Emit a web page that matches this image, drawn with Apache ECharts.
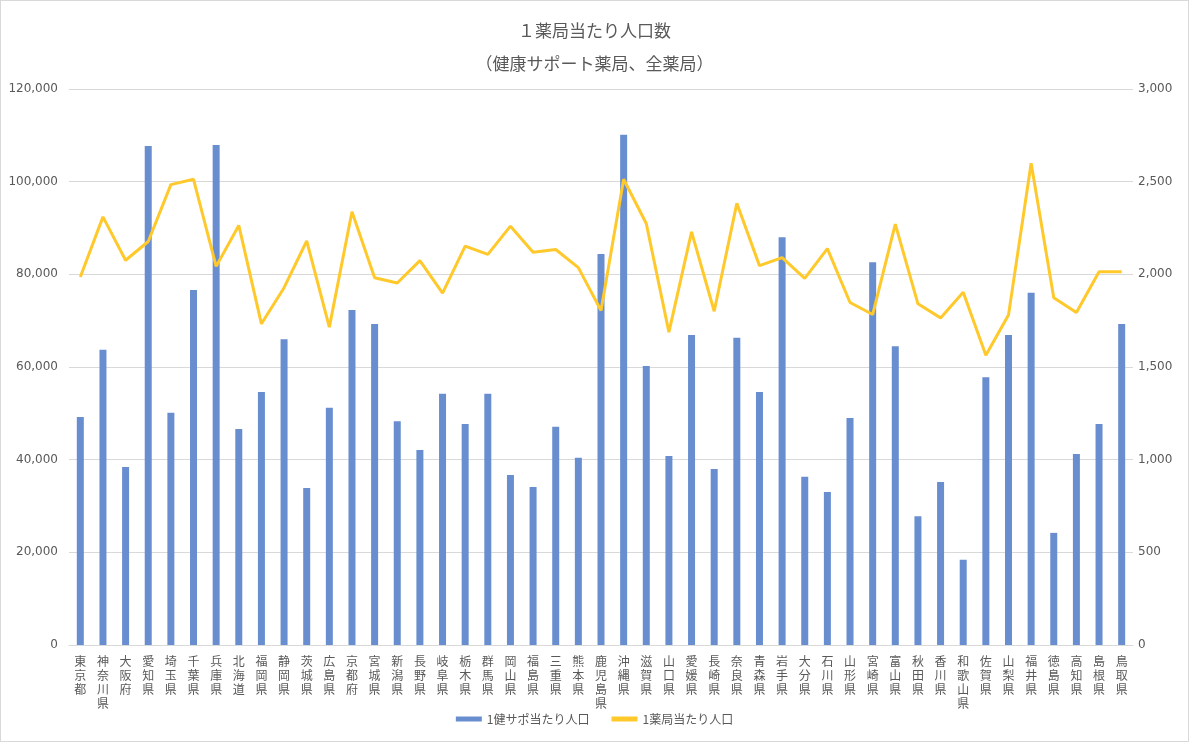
<!DOCTYPE html>
<html><head><meta charset="utf-8">
<script src="https://cdn.jsdelivr.net/npm/echarts@6/dist/echarts.min.js"></script>
<style>
html,body{margin:0;padding:0;background:#fff;}
#c{width:1189px;height:742px;box-sizing:border-box;border:1px solid #d9d9d9;}
</style></head>
<body><div id="c"></div>
<script>
const titleText = '１薬局当たり人口数\n（健康サポート薬局、全薬局）';
const seriesNames = ['1健サポ当たり人口', '1薬局当たり人口'];
const prefectures = ['東京都','神奈川県','大阪府','愛知県','埼玉県','千葉県','兵庫県','北海道','福岡県','静岡県','茨城県','広島県','京都府','宮城県','新潟県','長野県','岐阜県','栃木県','群馬県','岡山県','福島県','三重県','熊本県','鹿児島県','沖縄県','滋賀県','山口県','愛媛県','長崎県','奈良県','青森県','岩手県','大分県','石川県','山形県','宮崎県','富山県','秋田県','香川県','和歌山県','佐賀県','山梨県','福井県','徳島県','高知県','島根県','鳥取県'];
const perHealthSupport = [49200,63700,38400,107700,50100,76600,107900,46600,54600,66000,33900,51200,72300,69300,48300,42100,54200,47700,54200,36700,34100,47100,40400,84400,110100,60200,40800,66900,38000,66300,54600,88000,36300,33000,49000,82600,64500,27800,35200,18400,57800,66900,76000,24200,41200,47700,69300];
const perPharmacy = [1986,2310,2076,2177,2484,2513,2043,2264,1733,1928,2180,1715,2338,1982,1953,2074,1899,2152,2108,2260,2119,2134,2036,1805,2513,2274,1688,2229,1801,2383,2047,2090,1978,2139,1848,1783,2271,1841,1765,1903,1563,1780,2599,1874,1794,2014,2014];
const leftTicks = {min:0, max:120000, interval:20000};
const rightTicks = {min:0, max:3000, interval:500};

const txt = '#595959';
const numFont = 'DejaVu Sans';
const jpFont = '"Noto Sans CJK JP"';
const chart = echarts.init(document.getElementById('c'), null, {renderer:'canvas'});
chart.setOption({
  animation:false,
  backgroundColor:'#fff',
  title:{text:titleText, left:'center', top:8,
    textStyle:{fontFamily:jpFont, fontSize:17, fontWeight:'normal', color:txt, lineHeight:33}},
  grid:{left:68, right:55, top:88, bottom:96, containLabel:false},
  legend:{bottom:11, left:'center', itemWidth:26, itemHeight:5, itemGap:22,
    textStyle:{fontFamily:jpFont, fontSize:12, color:txt},
    data:[{name:seriesNames[0], icon:'rect'},{name:seriesNames[1], icon:'rect'}]},
  xAxis:{type:'category', data:prefectures,
    axisLine:{lineStyle:{color:'#d9d9d9'}}, axisTick:{show:false},
    axisLabel:{interval:0, margin:9, fontFamily:jpFont, fontSize:12, lineHeight:14, color:txt,
      verticalAlign:'top',
      formatter:v=>v.split('').join('\n')}},
  yAxis:[
    {type:'value', min:leftTicks.min, max:leftTicks.max, interval:leftTicks.interval,
     axisLine:{show:false}, axisTick:{show:false},
     splitLine:{lineStyle:{color:'#d9d9d9'}},
     axisLabel:{margin:11, fontFamily:numFont, fontSize:12, color:txt,
       formatter:v=>v.toLocaleString('en-US')}},
    {type:'value', min:rightTicks.min, max:rightTicks.max, interval:rightTicks.interval,
     axisLine:{show:false}, axisTick:{show:false}, splitLine:{show:false},
     axisLabel:{margin:5, fontFamily:numFont, fontSize:12, color:txt,
       formatter:v=>v.toLocaleString('en-US')}}
  ],
  series:[
    {name:seriesNames[0], type:'bar', yAxisIndex:0, data:perHealthSupport, barWidth:7,
     itemStyle:{color:'#698ED0'}},
    {name:seriesNames[1], type:'line', yAxisIndex:1, data:perPharmacy, symbol:'none',
     lineStyle:{color:'#FFC92B', width:3}, itemStyle:{color:'#FFC92B'}}
  ]
});
</script></body></html>
